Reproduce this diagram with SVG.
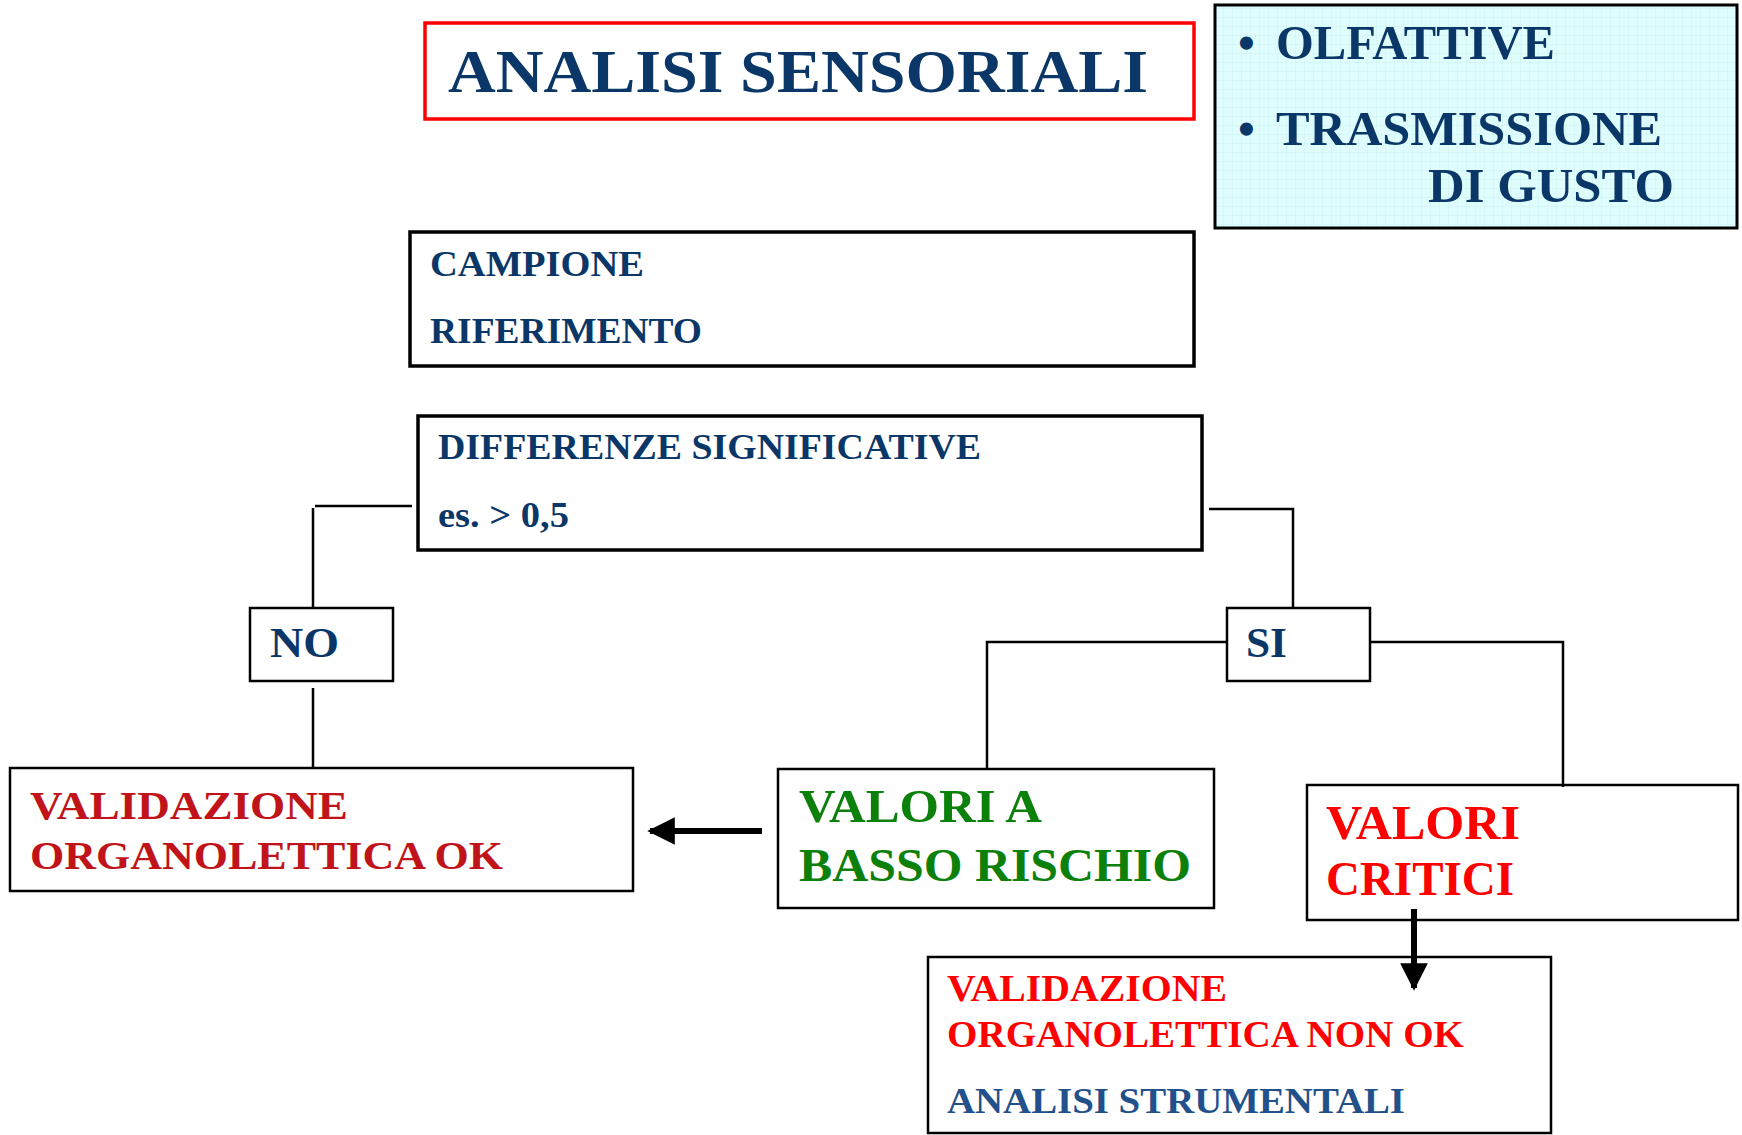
<svg xmlns="http://www.w3.org/2000/svg" width="1742" height="1135" viewBox="0 0 1742 1135">
<defs>
<pattern id="grid" width="9" height="9" patternUnits="userSpaceOnUse">
<rect width="9" height="9" fill="#e0fdfd"/>
<path d="M9 0V9M0 9H9" stroke="#c9f1f3" stroke-width="1" fill="none"/>
</pattern>
<marker id="ah" viewBox="0 0 10 10" refX="9" refY="5" markerWidth="4.6" markerHeight="4.6" markerUnits="strokeWidth" orient="auto">
<path d="M0 0L10 5L0 10z" fill="#000"/>
</marker>
<style>
text{font-family:"Liberation Serif","Times New Roman",serif;font-weight:bold}
.box{fill:#fff;stroke:#000}
.navy{fill:#0a3767}
.red{fill:#ff0000}
.dred{fill:#c0141a}
.green{fill:#0b800b}
.blue{fill:#22508a}
.con{stroke:#000;stroke-width:2.5;fill:none}
.arr{stroke:#000;stroke-width:6;fill:none}
</style>
</defs>
<rect width="1742" height="1135" fill="#fff"/>

<g id="title">
<rect x="425" y="23" width="769" height="96" fill="#fff" stroke="#ff0000" stroke-width="3.5"/>
<text x="448" y="92" font-size="62" class="navy" textLength="700" lengthAdjust="spacingAndGlyphs">ANALISI SENSORIALI</text>
</g>

<g id="tipi">
<rect x="1215" y="5" width="522" height="223" fill="url(#grid)" stroke="#000" stroke-width="3"/>
<text x="1238" y="59" font-size="48" class="navy">•</text>
<text x="1276" y="59" font-size="48" class="navy" textLength="279" lengthAdjust="spacingAndGlyphs">OLFATTIVE</text>
<text x="1238" y="145" font-size="48" class="navy">•</text>
<text x="1276" y="145" font-size="48" class="navy" textLength="386" lengthAdjust="spacingAndGlyphs">TRASMISSIONE</text>
<text x="1428" y="202" font-size="48" class="navy" textLength="246" lengthAdjust="spacingAndGlyphs">DI GUSTO</text>
</g>

<g id="campione">
<rect class="box" x="410" y="232" width="784" height="134" stroke-width="3.5"/>
<text x="430" y="276" font-size="36" class="navy" textLength="214" lengthAdjust="spacingAndGlyphs">CAMPIONE</text>
<text x="430" y="343" font-size="36" class="navy" textLength="272" lengthAdjust="spacingAndGlyphs">RIFERIMENTO</text>
</g>

<g id="differenze">
<rect class="box" x="418" y="416" width="784" height="134" stroke-width="3.5"/>
<text x="438" y="459" font-size="36" class="navy" textLength="543" lengthAdjust="spacingAndGlyphs">DIFFERENZE SIGNIFICATIVE</text>
<text x="438" y="527" font-size="36" class="navy" textLength="131" lengthAdjust="spacingAndGlyphs">es. &gt; 0,5</text>
</g>

<g id="no">
<rect class="box" x="250" y="608" width="143" height="73" stroke-width="2.5"/>
<text x="270" y="657" font-size="43" class="navy" textLength="69" lengthAdjust="spacingAndGlyphs">NO</text>
</g>

<g id="si">
<rect class="box" x="1227" y="608" width="143" height="73" stroke-width="2.5"/>
<text x="1246" y="657" font-size="43" class="navy" textLength="41" lengthAdjust="spacingAndGlyphs">SI</text>
</g>

<g id="validazione-ok">
<rect class="box" x="10" y="768" width="623" height="123" stroke-width="2.5"/>
<text x="30" y="819" font-size="41" class="dred" textLength="318" lengthAdjust="spacingAndGlyphs">VALIDAZIONE</text>
<text x="30" y="869" font-size="41" class="dred" textLength="473" lengthAdjust="spacingAndGlyphs">ORGANOLETTICA OK</text>
</g>

<g id="basso-rischio">
<rect class="box" x="778" y="769" width="436" height="139" stroke-width="2.5"/>
<text x="799" y="822" font-size="46" class="green" textLength="243" lengthAdjust="spacingAndGlyphs">VALORI A</text>
<text x="799" y="881" font-size="46" class="green" textLength="392" lengthAdjust="spacingAndGlyphs">BASSO RISCHIO</text>
</g>

<g id="critici">
<rect class="box" x="1307" y="785" width="431" height="135" stroke-width="2.5"/>
<text x="1326" y="839" font-size="48" class="red" textLength="194" lengthAdjust="spacingAndGlyphs">VALORI</text>
<text x="1326" y="895" font-size="48" class="red" textLength="188" lengthAdjust="spacingAndGlyphs">CRITICI</text>
</g>

<g id="validazione-non-ok">
<rect class="box" x="928" y="957" width="623" height="176" stroke-width="2.5"/>
<text x="947" y="1001" font-size="37" class="red" textLength="280" lengthAdjust="spacingAndGlyphs">VALIDAZIONE</text>
<text x="947" y="1047" font-size="37" class="red" textLength="517" lengthAdjust="spacingAndGlyphs">ORGANOLETTICA NON OK</text>
<text x="947" y="1113" font-size="36" class="blue" textLength="458" lengthAdjust="spacingAndGlyphs">ANALISI STRUMENTALI</text>
</g>

<g id="connectors">
<polyline class="con" points="412,506 315,506"/>
<line class="con" x1="313" y1="508" x2="313" y2="607"/>
<line class="con" x1="313" y1="688" x2="313" y2="768"/>
<polyline class="con" points="1209,509 1293,509 1293,607"/>
<polyline class="con" points="1227,642 987,642 987,770"/>
<polyline class="con" points="1370,642 1563,642 1563,787"/>
<line class="arr" x1="762" y1="831" x2="650" y2="831" marker-end="url(#ah)"/>
<line class="arr" x1="1414" y1="909" x2="1414" y2="988" marker-end="url(#ah)"/>
</g>
</svg>
